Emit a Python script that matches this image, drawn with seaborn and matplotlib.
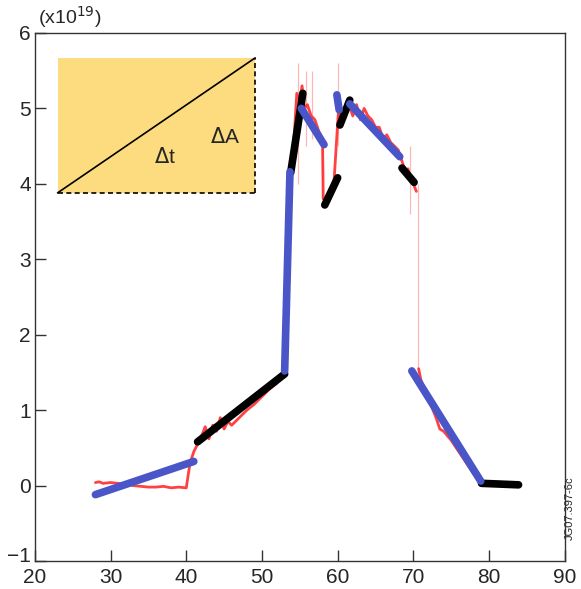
import numpy as np
import pandas as pd
import matplotlib
matplotlib.use("Agg")
import matplotlib.pyplot as plt
import matplotlib.transforms as mtransforms
import seaborn as sns
from matplotlib.patches import Rectangle

sns.set_theme(style="white")
plt.rcParams['font.family'] = ['Liberation Sans', 'DejaVu Sans']

# measured trace (red), values in units of 1e19 -- before and after the drop at ~70.5
red_t1 = [28, 28.5, 29, 30, 31, 32, 33, 34, 35, 36, 37, 38, 39, 40, 40.5, 41, 41.5,
          42, 42.5, 43, 43.5, 44, 44.5, 45, 45.5, 46, 47, 48, 49, 50, 51, 52, 53,
          53.5, 54, 54.3, 54.6, 55, 55.3, 55.6, 56, 56.5, 57, 57.5, 58, 58.1, 58.5,
          59, 59.5, 60, 60.2, 60.5, 61, 61.5, 62, 62.5, 63, 63.5, 64, 64.5, 65, 65.5,
          66, 66.5, 67, 67.5, 68, 68.5, 69, 69.3, 69.6, 70, 70.4]
red_y1 = [0.04, 0.05, 0.03, 0.04, 0.03, 0.02, 0.0, -0.01, -0.02, -0.02, -0.01, -0.03,
          -0.02, -0.03, 0.3, 0.45, 0.55, 0.65, 0.78, 0.62, 0.8, 0.72, 0.9, 0.75, 0.85,
          0.8, 0.9, 1.0, 1.08, 1.18, 1.28, 1.36, 1.5, 3.0, 4.3, 4.7, 5.2, 5.1, 5.3, 5.0,
          5.05, 4.9, 4.85, 4.7, 4.6, 3.8, 3.8, 3.9, 4.0, 4.8, 5.1, 4.85, 5.0, 5.05, 4.9,
          5.05, 4.85, 5.0, 4.9, 4.85, 4.75, 4.75, 4.6, 4.65, 4.55, 4.5, 4.45, 4.3, 4.15,
          4.2, 4.05, 4.0, 3.9]
red_t2 = [70.7, 71, 72, 73, 73.5, 74, 75, 76, 77, 78, 79]
red_y2 = [1.55, 1.4, 1.15, 0.9, 0.75, 0.72, 0.6, 0.45, 0.3, 0.15, 0.05]

# faint spikes on the red trace
spike_t = [54.8, 55.8, 56.6, 57.9, 60.1, 69.5, 70.55]
spike_lo = [4.0, 4.5, 4.6, 3.8, 4.5, 3.6, 1.5]
spike_hi = [5.6, 5.5, 5.5, 4.6, 5.6, 4.5, 4.0]

# linear fits (blue)
blue_t = [[28, 41], [53.0, 53.7], [55.2, 58.2], [59.9, 60.2], [61.6, 68.2], [69.8, 78.9]]
blue_y = [[-0.12, 0.32], [1.52, 4.16], [5.0, 4.52], [5.18, 4.98], [5.06, 4.36], [1.52, 0.06]]

# linear fits (black)
black_t = [[41.5, 53.0], [53.8, 55.4], [58.3, 60.0], [60.3, 61.6], [68.5, 70.1], [79.0, 83.9]]
black_y = [[0.58, 1.48], [4.15, 5.2], [3.72, 4.08], [4.78, 5.11], [4.21, 4.02], [0.03, 0.01]]

fig = plt.figure(figsize=(5.81, 5.89), dpi=100)
ax = fig.add_axes([0.060, 0.0475, 0.912, 0.8965])

# inset sketch
ax.add_patch(Rectangle((23.0, 3.88), 26.1, 1.79, facecolor='#fcdc7e', edgecolor='none', zorder=1))
ax.plot([23.0, 49.1], [3.88, 5.67], color='black', lw=1.2, zorder=2)
ax.plot([49.1, 49.1], [3.88, 5.67], color='black', lw=1.2, ls=(0, (3, 2)), zorder=2)
ax.plot([23.0, 49.1], [3.88, 3.88], color='black', lw=1.2, ls=(0, (3, 2)), zorder=2)
ax.text(37.2, 4.35, r'$\Delta$t', fontsize=15, ha='center', va='center')
ax.text(45.1, 4.62, r'$\Delta$A', fontsize=15, ha='center', va='center')

ax.vlines(spike_t, spike_lo, spike_hi, color='#ff3030', lw=0.9, alpha=0.35, zorder=3)
for t, y in [(red_t1, red_y1), (red_t2, red_y2)]:
    sns.lineplot(x=t, y=y, ax=ax, color='#ff2020', lw=2.0, alpha=0.85,
                 estimator=None, sort=False, zorder=3)

for t, y in zip(black_t, black_y):
    sns.lineplot(x=t, y=y, ax=ax, color='black', lw=5.5, estimator=None,
                 solid_capstyle='round', zorder=4)
for t, y in zip(blue_t, blue_y):
    sns.lineplot(x=t, y=y, ax=ax, color='#4a56c8', lw=5.5, estimator=None,
                 solid_capstyle='round', zorder=5)

ax.set_xlim(20, 90)
ax.set_ylim(-1, 6)
ax.set_xticks(range(20, 91, 10))
ax.set_yticks(range(-1, 7))
ax.set_yticklabels(['\u22121'] + [str(v) for v in range(0, 7)])
ax.tick_params(axis='both', direction='in', length=8, width=1, color='#333333',
               labelsize=15, bottom=True, left=True, top=False, right=False)
ax.tick_params(axis='x', pad=5)
ax.tick_params(axis='y', pad=3)
for s in ax.spines.values():
    s.set_color('#333333')
    s.set_linewidth(1)
ax.set_xlabel('')
ax.set_ylabel('')

# lift the -1 label a little, as in the original
lab = ax.get_yticklabels()[0]
lab.set_transform(lab.get_transform() + mtransforms.ScaledTranslation(0, 5 / 72, fig.dpi_scale_trans))

ax.text(0.005, 1.005, r'(x10$^{19}$)', transform=ax.transAxes, fontsize=14,
        ha='left', va='bottom')
fig.text(0.981, 0.137, 'JG07.397-6c', rotation=90, fontsize=8, ha='center', va='center')

plt.savefig('out.png', dpi=100)
